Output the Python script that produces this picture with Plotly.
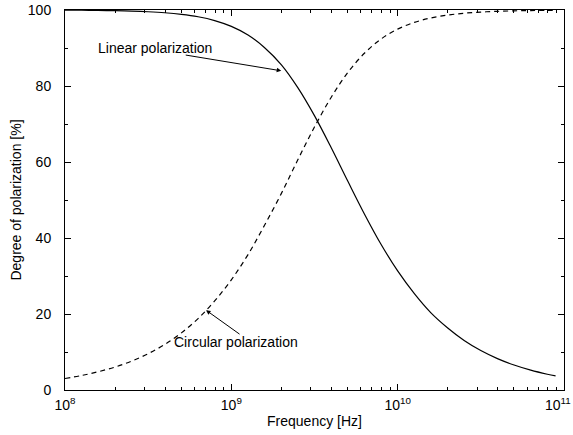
import plotly.graph_objects as go

# Frequencies [Hz] (log-spaced samples)
freq = [1.00e8, 1.26e8, 1.58e8, 2.00e8, 2.51e8, 3.16e8, 3.98e8, 5.01e8, 6.31e8, 7.94e8,
        1.00e9, 1.26e9, 1.58e9, 2.00e9, 2.51e9, 3.16e9, 3.98e9, 5.01e9, 6.31e9, 7.94e9,
        1.00e10, 1.26e10, 1.58e10, 2.00e10, 2.51e10, 3.16e10, 3.98e10, 5.01e10, 6.31e10, 7.94e10,
        8.90e10]

linear = [99.95, 99.93, 99.88, 99.82, 99.71, 99.54, 99.28, 98.86, 98.22, 97.22,
          95.70, 93.43, 90.14, 85.57, 79.57, 72.20, 63.82, 54.99, 46.34, 38.36,
          31.34, 25.36, 20.38, 16.32, 13.03, 10.38, 8.26, 6.57, 5.22, 4.15,
          3.70]

circular = [3.03, 3.82, 4.80, 6.04, 7.60, 9.55, 11.99, 15.03, 18.80, 23.43,
            29.00, 35.64, 43.29, 51.74, 60.57, 69.19, 76.99, 83.52, 88.61, 92.35,
            94.96, 96.73, 97.90, 98.66, 99.15, 99.46, 99.66, 99.78, 99.86, 99.91,
            99.93]

x_ticks = [1e8, 1e9, 1e10, 1e11]
x_ticktext = ["10<sup>8</sup>", "10<sup>9</sup>", "10<sup>10</sup>", ""]
x_last_label = "10<sup>11</sup>"
x_minor = [m * 10 ** e for e in (8, 9, 10) for m in range(2, 10)]
y_ticks = [0, 20, 40, 60, 80, 100]
y_minor = [10, 30, 50, 70, 90]

FONT = "Liberation Sans, Arial, Helvetica, sans-serif"

fig = go.Figure()
fig.add_trace(go.Scatter(x=freq, y=linear, mode="lines", line=dict(color="black", width=1.2, shape="spline"),
                         name="Linear polarization", showlegend=False))
fig.add_trace(go.Scatter(x=freq, y=circular, mode="lines",
                         line=dict(color="black", width=1.2, dash="5px,4px", shape="spline"),
                         name="Circular polarization", showlegend=False))

axis_common = dict(showline=True, linecolor="black", linewidth=1, mirror="allticks",
                   ticks="inside", ticklen=6, tickcolor="black", tickwidth=1, showgrid=False, zeroline=False,
                   automargin=False, ticklabeloverflow="allow",
                   tickfont=dict(family=FONT, size=14, color="black"))

fig.update_xaxes(type="log", range=[7.99995, 11.00005], tickvals=x_ticks, ticktext=x_ticktext,
                 minor=dict(tickvals=x_minor, ticks="inside", ticklen=3, tickcolor="black"),
                 ticklabelstandoff=2,
                 title=dict(text="Frequency [Hz]", font=dict(family=FONT, size=14, color="black"), standoff=4),
                 **axis_common)
fig.update_yaxes(range=[0, 100], tickvals=y_ticks,
                 minor=dict(tickvals=y_minor, ticks="inside", ticklen=3, tickcolor="black"),
                 ticklabelstandoff=10,
                 title=dict(text="Degree of polarization [%]", font=dict(family=FONT, size=14, color="black"), standoff=2),
                 **axis_common)

# Last x tick label, shifted left so that it stays inside the page
fig.add_annotation(x=11, y=0, xref="x", yref="paper", text=x_last_label, showarrow=False,
                   xanchor="right", yanchor="top", xshift=9, yshift=-3,
                   font=dict(family=FONT, size=14, color="black"))

# Labels
fig.add_annotation(x=8.541, y=90, xref="x", yref="y", text="Linear polarization", showarrow=False,
                   xanchor="center", yanchor="middle", font=dict(family=FONT, size=14, color="black"))
fig.add_annotation(x=9.028, y=12.6, xref="x", yref="y", text="Circular polarization", showarrow=False,
                   xanchor="center", yanchor="middle", font=dict(family=FONT, size=14, color="black"))
# Arrows
fig.add_annotation(x=9.3, y=84, xref="x", yref="y", text="", showarrow=True, ax=-97, ay=-16,
                   arrowhead=2, arrowsize=0.9, arrowwidth=1, arrowcolor="black")
fig.add_annotation(x=8.848, y=21, xref="x", yref="y", text="", showarrow=True, ax=35, ay=25,
                   arrowhead=2, arrowsize=0.9, arrowwidth=1, arrowcolor="black")

fig.update_layout(width=573, height=435, margin=dict(l=65, r=9, t=10, b=45, autoexpand=False),
                  paper_bgcolor="white", plot_bgcolor="white",
                  font=dict(family=FONT, color="black"))

fig.write_html("out.html")
